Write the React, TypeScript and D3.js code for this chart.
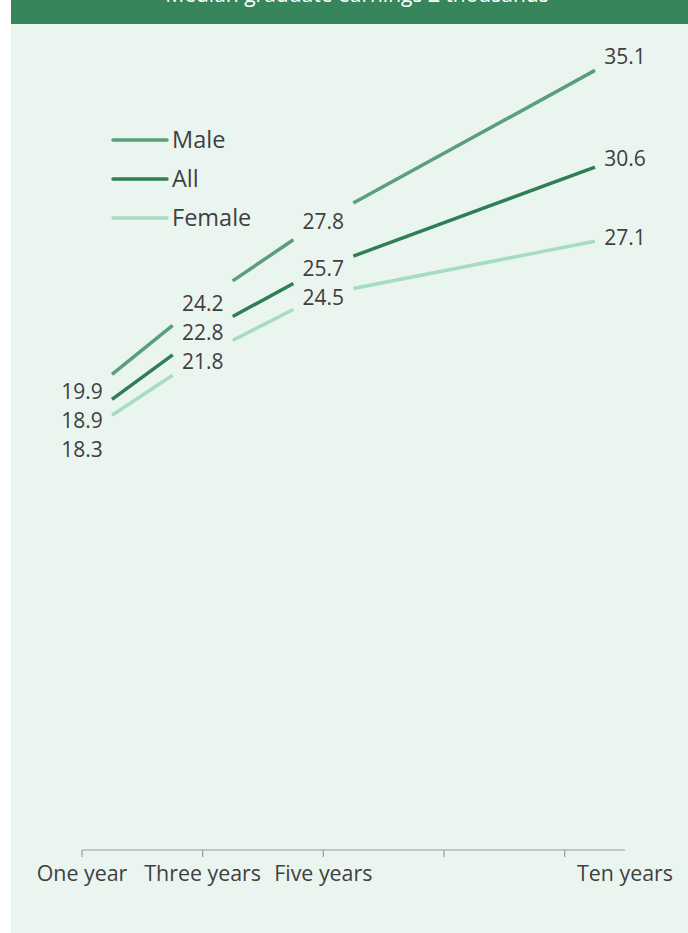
import React from "react";
import * as d3 from "d3";

const years = [1, 3, 5, 10];
const yearLabels = ["One year", "Three years", "Five years", "Ten years"];
const tickYears = [1, 3, 5, 7, 9];
const seriesNames = ["Male", "All", "Female"];
const maleValues = [19.9, 24.2, 27.8, 35.1];
const allValues = [18.9, 22.8, 25.7, 30.6];
const femaleValues = [18.3, 21.8, 24.5, 27.1];
const seriesColors = ["#5a9f7b", "#2f7e55", "#a6dcc0"];
const title = "Median graduate earnings £ thousands";

const W = 688;
const H = 933;
const FONT = "'Open Sans', 'Noto Sans', sans-serif";
const TEXT = "#404040";

export default function App() {
  const x = d3.scaleLinear().domain([1, 10]).range([82, 625]);
  const y = d3.scaleLinear().domain([0, 36]).range([850, 850 - 36 * 22.68]);
  const series = [maleValues, allValues, femaleValues];
  const GAP = 30;

  const segs: { x1: number; y1: number; x2: number; y2: number; c: string }[] = [];
  series.forEach((vals, si) => {
    for (let i = 1; i < years.length; i++) {
      const xa = x(years[i - 1]);
      const ya = y(vals[i - 1]);
      const xb = x(years[i]);
      const yb = y(vals[i]);
      const t1 = GAP / (xb - xa);
      const t2 = 1 - GAP / (xb - xa);
      segs.push({
        x1: xa + (xb - xa) * t1,
        y1: ya + (yb - ya) * t1,
        x2: xa + (xb - xa) * t2,
        y2: ya + (yb - ya) * t2,
        c: seriesColors[si],
      });
    }
  });

  const labels: { x: number; y: number; t: string }[] = [];
  years.forEach((yr, i) => {
    const items = series.map((vals) => ({ v: vals[i], p: y(vals[i]) + 2 }));
    items.sort((a, b) => a.p - b.p);
    const minGap = 29;
    for (let it = 0; it < 200; it++) {
      let moved = false;
      for (let k = 1; k < items.length; k++) {
        const d = items[k].p - items[k - 1].p;
        if (d < minGap - 0.01) {
          const s = (minGap - d) / 2;
          items[k - 1].p -= s;
          items[k].p += s;
          moved = true;
        }
      }
      if (!moved) break;
    }
    items.forEach((it) => labels.push({ x: x(yr), y: it.p, t: it.v.toFixed(1) }));
  });

  return (
    <div style={{ position: "absolute", left: 0, top: 0 }}>
      <svg width={W} height={H} style={{ display: "block" }}>
        <rect x={11} y={0} width={W - 11} height={H} fill="#ebf5f0" />
        <rect x={11} y={0} width={W - 11} height={24} fill="#36855b" />
        <text x={357} y={2} textAnchor="middle" fontFamily={FONT} fontSize={21} fill="#ffffff">
          {title}
        </text>

        <line x1={x(1)} x2={x(10)} y1={850} y2={850} stroke="#999" strokeWidth={1.2} />
        {tickYears.map((t) => (
          <line key={t} x1={x(t)} x2={x(t)} y1={850} y2={857} stroke="#999" strokeWidth={1.2} />
        ))}
        {years.map((yr, i) => (
          <text key={yr} x={x(yr)} y={881} textAnchor="middle" fontFamily={FONT} fontSize={21.4} fill={TEXT}>
            {yearLabels[i]}
          </text>
        ))}

        {segs.map((s, i) => (
          <line key={i} x1={s.x1} y1={s.y1} x2={s.x2} y2={s.y2} stroke={s.c} strokeWidth={3.5} />
        ))}

        {labels.map((l, i) => (
          <text key={i} x={l.x} y={l.y} textAnchor="middle" dominantBaseline="central" fontFamily={FONT} fontSize={21} fill={TEXT}>
            {l.t}
          </text>
        ))}

        {seriesNames.map((n, i) => (
          <g key={n}>
            <line x1={113} x2={167} y1={140 + i * 39} y2={140 + i * 39} stroke={seriesColors[i]} strokeWidth={3.5} strokeLinecap="round" />
            <text x={172} y={139 + i * 39} dominantBaseline="central" fontFamily={FONT} fontSize={23.5} fill={TEXT}>
              {n}
            </text>
          </g>
        ))}
      </svg>
    </div>
  );
}
